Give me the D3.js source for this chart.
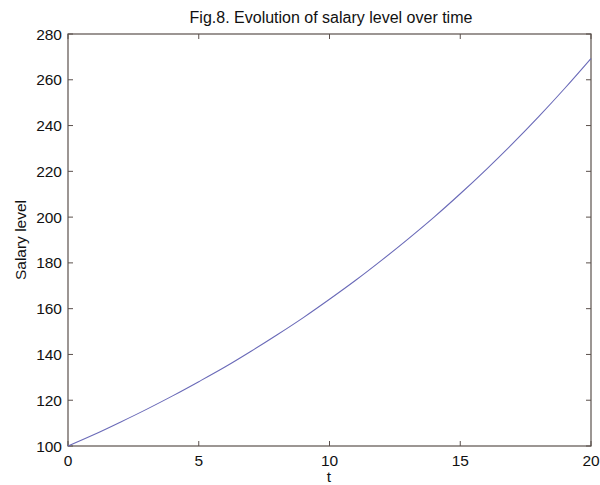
<!DOCTYPE html>
<html>
<head>
<meta charset="utf-8">
<script src="https://cdn.jsdelivr.net/npm/d3@7"></script>
<style>
  body { margin: 0; background: #fff; }
  svg text { font-family: "Liberation Sans", Arial, sans-serif; fill: #111; }
</style>
</head>
<body>
<svg id="chart" width="600" height="485"></svg>
<script>
// values
var tValues = [0, 1, 2, 3, 4, 5, 6, 7, 8, 9, 10, 11, 12, 13, 14, 15, 16, 17, 18, 19, 20];
var salary = [100, 105, 110.4, 116, 121.9, 128.1, 134.5, 141.4, 148.6, 156.1, 164.1,
              172.4, 181.2, 190.4, 200, 210.2, 220.9, 232.1, 243.9, 256.3, 269.3];
var xTicks = [0, 5, 10, 15, 20];
var yTicks = [100, 120, 140, 160, 180, 200, 220, 240, 260, 280];

var svg = d3.select("#chart");
// plot box edges (window.top is reserved, so use other names)
var pLeft = 68, pRight = 591, pTop = 34, pBottom = 446;
var axisColor = "#5b504c";

var x = d3.scaleLinear().domain([0, 20]).range([pLeft, pRight]);
var y = d3.scaleLinear().domain([100, 280]).range([pBottom, pTop]);

// box
svg.append("rect")
  .attr("x", pLeft).attr("y", pTop)
  .attr("width", pRight - pLeft).attr("height", pBottom - pTop)
  .attr("fill", "none").attr("stroke", axisColor).attr("stroke-width", 1.2);

// ticks inward on all sides, matlab style
var tl = 5;
var g = svg.append("g").attr("stroke", axisColor).attr("stroke-width", 1);
xTicks.forEach(function(d){
  g.append("line").attr("x1", x(d)).attr("x2", x(d)).attr("y1", pBottom).attr("y2", pBottom - tl);
  g.append("line").attr("x1", x(d)).attr("x2", x(d)).attr("y1", pTop).attr("y2", pTop + tl);
});
yTicks.forEach(function(d){
  g.append("line").attr("x1", pLeft).attr("x2", pLeft + tl).attr("y1", y(d)).attr("y2", y(d));
  g.append("line").attr("x1", pRight).attr("x2", pRight - tl).attr("y1", y(d)).attr("y2", y(d));
});

// tick labels
svg.selectAll(".xl").data(xTicks).enter().append("text")
  .attr("x", function(d){ return x(d); }).attr("y", 466)
  .attr("text-anchor", "middle").attr("font-size", 15.5)
  .text(function(d){ return d; });
svg.selectAll(".yl").data(yTicks).enter().append("text")
  .attr("x", 62).attr("y", function(d){ return y(d) + 5.5; })
  .attr("text-anchor", "end").attr("font-size", 15.5)
  .text(function(d){ return d; });

// the curve
var line = d3.line()
  .x(function(d, i){ return x(tValues[i]); })
  .y(function(d){ return y(d); })
  .curve(d3.curveMonotoneX);
svg.append("path").datum(salary)
  .attr("d", line)
  .attr("fill", "none").attr("stroke", "#6a6ab8").attr("stroke-width", 1.1);

// labels
svg.append("text").attr("x", 331).attr("y", 23)
  .attr("text-anchor", "middle").attr("font-size", 16)
  .text("Fig.8. Evolution of salary level over time");
svg.append("text").attr("x", 329).attr("y", 482)
  .attr("text-anchor", "middle").attr("font-size", 15.5)
  .text("t");
svg.append("text")
  .attr("transform", "translate(26,240) rotate(-90)")
  .attr("text-anchor", "middle").attr("font-size", 15.5)
  .text("Salary level");
</script>
</body>
</html>
